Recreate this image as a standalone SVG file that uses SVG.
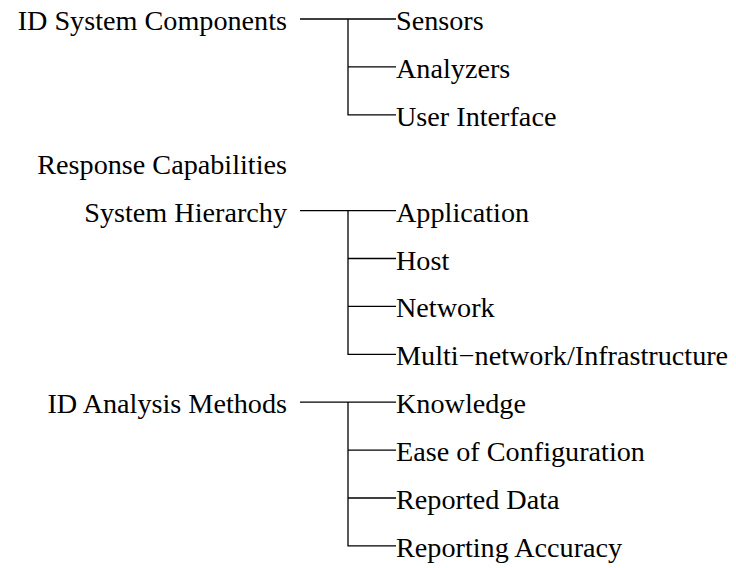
<svg xmlns="http://www.w3.org/2000/svg" width="736" height="568" viewBox="0 0 736 568">
  <style>
    .parent { text-anchor: end; }
    .child { text-anchor: start; }
    .conn { stroke: #000; stroke-width: 1.3; fill: none; }
  </style>
  <rect width="736" height="568" fill="#fff"/>

  <!-- connectors: trunk from parent, vertical spine, branches to children -->
  <g id="connectors" class="conn">
    <path d="M300 19H396 M348 19V114.8H396 M348 66.9H396"/>
    <path d="M300 210.6H396 M348 210.6V354.3H396 M348 258.5H396 M348 306.4H396"/>
    <path d="M300 402.2H396 M348 402.2V545.9H396 M348 450.1H396 M348 498H396"/>
  </g>

  <g id="labels" font-family="Liberation Serif, Times New Roman, serif" font-size="28.2" fill="#000">
    <g id="node-id-system-components"><text class="parent" x="287" y="30">ID System Components</text></g>
    <g id="node-sensors"><text class="child" x="396" y="30">Sensors</text></g>
    <g id="node-analyzers"><text class="child" x="396" y="77.9">Analyzers</text></g>
    <g id="node-user-interface"><text class="child" x="396" y="125.8">User Interface</text></g>

    <g id="node-response-capabilities"><text class="parent" x="287" y="173.7">Response Capabilities</text></g>

    <g id="node-system-hierarchy"><text class="parent" x="287" y="221.6">System Hierarchy</text></g>
    <g id="node-application"><text class="child" x="396" y="221.6">Application</text></g>
    <g id="node-host"><text class="child" x="396" y="269.5">Host</text></g>
    <g id="node-network"><text class="child" x="396" y="317.4">Network</text></g>
    <g id="node-multi-network"><text class="child" x="396" y="365.3">Multi−network/Infrastructure</text></g>

    <g id="node-id-analysis-methods"><text class="parent" x="287" y="413.2">ID Analysis Methods</text></g>
    <g id="node-knowledge"><text class="child" x="396" y="413.2">Knowledge</text></g>
    <g id="node-ease-of-configuration"><text class="child" x="396" y="461.1">Ease of Configuration</text></g>
    <g id="node-reported-data"><text class="child" x="396" y="509">Reported Data</text></g>
    <g id="node-reporting-accuracy"><text class="child" x="396" y="556.9">Reporting Accuracy</text></g>
  </g>
</svg>
